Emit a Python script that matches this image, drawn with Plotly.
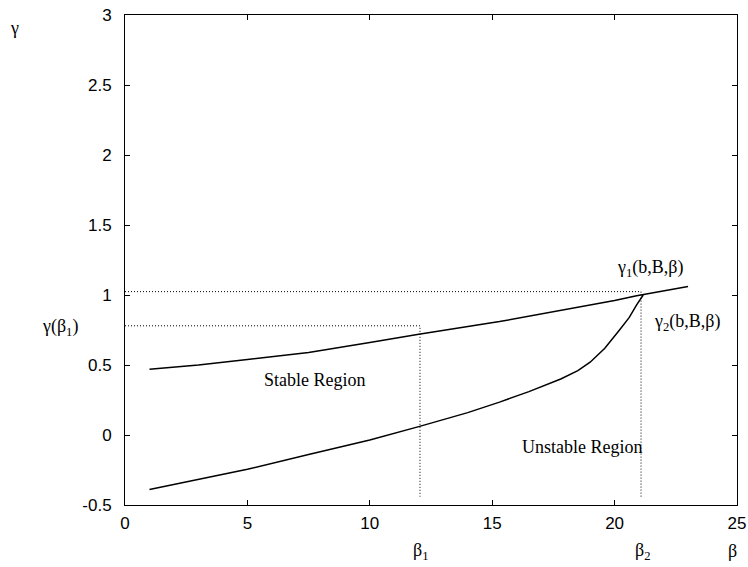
import plotly.graph_objects as go

# Upper curve gamma1(b,B,beta)
beta_g1 = [1, 3, 5, 7.5, 10, 12, 15.3, 17.5, 20, 20.9, 23]
gamma1 = [0.47, 0.50, 0.54, 0.59, 0.66, 0.72, 0.81, 0.88, 0.96, 0.995, 1.06]

# Lower curve gamma2(b,B,beta)
beta_g2 = [1, 3, 5, 7.5, 10, 12, 14, 15.3, 16.5, 17.8, 18.5, 19.0, 19.6, 20.2, 20.6, 20.9, 21.17]
gamma2 = [-0.39, -0.32, -0.245, -0.14, -0.035, 0.06, 0.16, 0.235, 0.31, 0.40, 0.46, 0.52, 0.62, 0.75, 0.84, 0.93, 1.0]

beta1, gamma_b1 = 12.05, 0.78
beta2, gamma_b2 = 21.08, 1.024
y_bottom = -0.44

x_ticks = [0, 5, 10, 15, 20, 25]
y_ticks = [-0.5, 0, 0.5, 1, 1.5, 2, 2.5, 3]

fig = go.Figure()
line_style = dict(color="black", width=1.5)
dot_style = dict(color="black", width=1, dash="1px,2px")

fig.add_trace(go.Scatter(x=beta_g1, y=gamma1, mode="lines", line=line_style))
fig.add_trace(go.Scatter(x=beta_g2, y=gamma2, mode="lines", line=line_style))

# Dotted guide lines
fig.add_trace(go.Scatter(x=[0, beta1, beta1], y=[gamma_b1, gamma_b1, y_bottom], mode="lines", line=dot_style))
fig.add_trace(go.Scatter(x=[0, beta2, beta2], y=[gamma_b2, gamma_b2, y_bottom], mode="lines", line=dot_style))

serif = dict(family="Liberation Serif, Times New Roman, serif", size=18, color="black")

# plot area in pixels
PX0, PX1, PY0, PY1 = 125, 737, 15, 505

annots = [
    dict(x=315, y=380, text="Stable Region"),
    dict(x=582, y=447, text="Unstable Region"),
    dict(x=650, y=268, text="γ<sub>1</sub>(b,B,β)"),
    dict(x=687, y=322, text="γ<sub>2</sub>(b,B,β)"),
    dict(x=60, y=327, text="γ(β<sub>1</sub>)"),
    dict(x=14, y=28, text="γ"),
    dict(x=420, y=551, text="β<sub>1</sub>"),
    dict(x=642, y=551, text="β<sub>2</sub>"),
    dict(x=732, y=551, text="β"),
]
for a in annots:
    fig.add_annotation(x=(a["x"] - PX0) / (PX1 - PX0), y=(PY1 - a["y"]) / (PY1 - PY0),
                       xref="paper", yref="paper",
                       text=a["text"], showarrow=False, font=serif,
                       xanchor="center", yanchor="middle")

axis_common = dict(showgrid=False, zeroline=False, showline=True, linecolor="black",
                   linewidth=1, mirror="ticks", ticks="inside", ticklen=5,
                   tickcolor="black", tickfont=dict(family="Liberation Sans, Arial, sans-serif",
                                                    size=17, color="black"))

fig.update_xaxes(range=[0, 25], tickvals=x_ticks, ticktext=[str(v) for v in x_ticks],
                 ticklabelstandoff=3, **axis_common)
fig.update_yaxes(range=[-0.5, 3], tickvals=y_ticks, ticktext=[f"{v:g}" for v in y_ticks],
                 ticklabelstandoff=9, **axis_common)

fig.update_layout(width=748, height=567, showlegend=False,
                  plot_bgcolor="white", paper_bgcolor="white",
                  margin=dict(l=PX0, r=748 - PX1, t=PY0, b=567 - PY1, autoexpand=False))

fig.write_html("out.html", config={"displayModeBar": False},
               post_script="document.body.style.margin='0';")
